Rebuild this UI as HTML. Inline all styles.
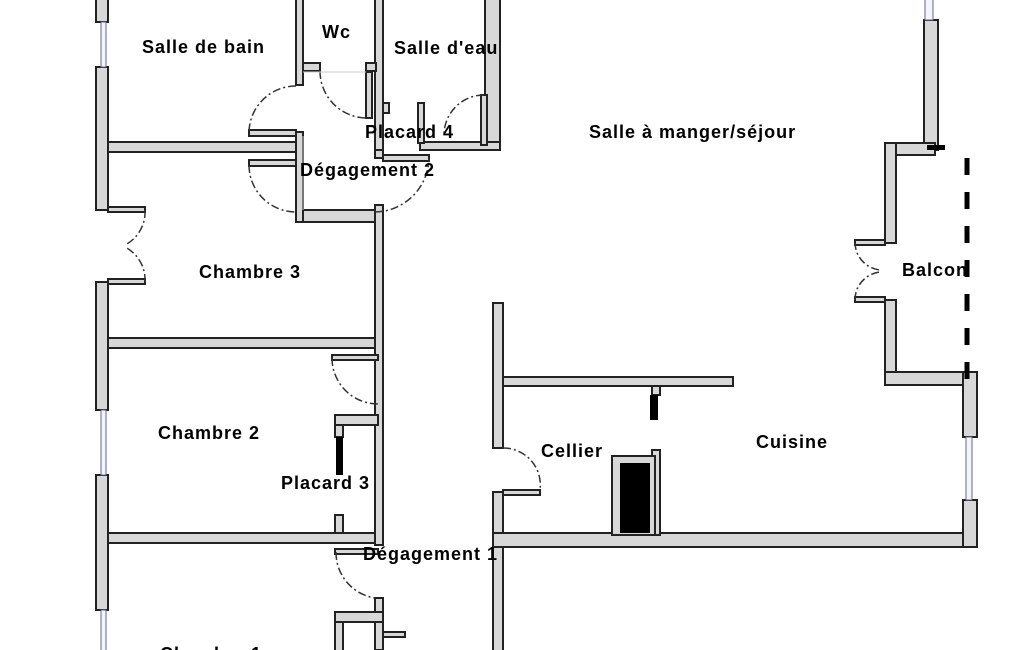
<!DOCTYPE html>
<html><head><meta charset="utf-8"><style>
html,body{margin:0;padding:0;background:#fff;width:1025px;height:650px;overflow:hidden}
svg{display:block}
text{font-family:"Liberation Sans",Arial,sans-serif;font-size:18px;font-weight:bold;letter-spacing:1px;fill:#000}
</style></head><body>
<svg width="1025" height="650" viewBox="0 0 1025 650" xmlns="http://www.w3.org/2000/svg">
<g fill="#d8d8d8" stroke="#222" stroke-width="2">
<rect x="96" y="-2" width="12" height="24"/>
<rect x="96" y="67" width="12" height="143"/>
<rect x="96" y="282" width="12" height="128"/>
<rect x="96" y="475" width="12" height="135"/>
<rect x="108" y="142" width="190" height="10"/>
<rect x="108" y="338" width="270" height="10"/>
<rect x="108" y="533" width="270" height="10"/>
<rect x="296" y="-2" width="7" height="87"/>
<rect x="303" y="63" width="17" height="8"/>
<rect x="375" y="-2" width="8" height="154"/>
<rect x="366" y="63" width="10" height="8"/>
<rect x="366" y="72" width="6" height="46"/>
<rect x="383" y="103" width="6" height="10"/>
<rect x="485" y="-2" width="15" height="152"/>
<rect x="420" y="142" width="80" height="8"/>
<rect x="418" y="103" width="6" height="40"/>
<rect x="481" y="95" width="6" height="50"/>
<rect x="296" y="132" width="7" height="90"/>
<rect x="249" y="130" width="47" height="6"/>
<rect x="249" y="160" width="47" height="6"/>
<rect x="303" y="210" width="80" height="12"/>
<rect x="375" y="150" width="8" height="8"/>
<rect x="383" y="155" width="46" height="6"/>
<rect x="375" y="205" width="8" height="340"/>
<rect x="108" y="207" width="37" height="5"/>
<rect x="108" y="279" width="37" height="5"/>
<rect x="332" y="355" width="46" height="5"/>
<rect x="335" y="415" width="43" height="10"/>
<rect x="335" y="425" width="8" height="12"/>
<rect x="335" y="515" width="8" height="18"/>
<rect x="335" y="549" width="43" height="5"/>
<rect x="375" y="598" width="8" height="52"/>
<rect x="335" y="612" width="48" height="10"/>
<rect x="335" y="622" width="8" height="30"/>
<rect x="383" y="632" width="22" height="5"/>
<rect x="493" y="303" width="10" height="145"/>
<rect x="493" y="492" width="10" height="160"/>
<rect x="503" y="377" width="230" height="9"/>
<rect x="503" y="490" width="37" height="5"/>
<rect x="493" y="533" width="484" height="14"/>
<rect x="652" y="386" width="8" height="9"/>
<rect x="652" y="450" width="8" height="85"/>
<rect x="612" y="456" width="43" height="79"/>
<rect x="924" y="20" width="14" height="130"/>
<rect x="885" y="143" width="50" height="12"/>
<rect x="885" y="143" width="11" height="100"/>
<rect x="855" y="240" width="30" height="5"/>
<rect x="855" y="297" width="30" height="5"/>
<rect x="885" y="300" width="11" height="85"/>
<rect x="885" y="372" width="92" height="13"/>
<rect x="963" y="372" width="14" height="65"/>
<rect x="963" y="500" width="14" height="47"/>
</g>
<rect x="620" y="463" width="30" height="70" fill="#000"/>
<rect x="650" y="395" width="8" height="25" fill="#000"/>
<rect x="336" y="437" width="7" height="38" fill="#000"/>
<rect x="927" y="145" width="18" height="5" fill="#000"/>
<line x1="967" y1="158" x2="967" y2="380" stroke="#000" stroke-width="5" stroke-dasharray="17,17"/>
<g fill="#f4f4ff" stroke="#668" stroke-width="1">
<rect x="101" y="22" width="5" height="45"/>
<rect x="101" y="410" width="5" height="65"/>
<rect x="101" y="610" width="5" height="42"/>
<rect x="925" y="-2" width="8" height="22"/>
<rect x="966" y="437" width="6" height="63"/>
</g>
<g fill="none" stroke="#333" stroke-width="1.5" stroke-dasharray="8,3,2,3">
<path d="M 320 71 A 47 47 0 0 0 367 118"/>
<path d="M 296 86 A 47 47 0 0 0 249 133"/>
<path d="M 249 165 A 47 47 0 0 0 296 212"/>
<path d="M 375 212 A 55 55 0 0 0 429 158"/>
<path d="M 484 95 A 40 40 0 0 0 444 135"/>
<path d="M 145 210 A 37 37 0 0 1 125 245"/>
<path d="M 145 282 A 37 37 0 0 0 125 247"/>
<path d="M 332 358 A 46 46 0 0 0 378 404"/>
<path d="M 336 552 A 46 46 0 0 0 375 598"/>
<path d="M 503 448 A 37 37 0 0 1 540 490"/>
<path d="M 855 242 A 28 28 0 0 0 880 270"/>
<path d="M 855 300 A 28 28 0 0 1 880 272"/>
</g>
<g fill="none" stroke="#ccc" stroke-width="1">
<line x1="303" y1="72" x2="366" y2="72"/>
<line x1="303" y1="210" x2="303" y2="136"/>
</g>
<text x="142" y="53">Salle de bain</text>
<text x="322" y="38">Wc</text>
<text x="394" y="54">Salle d'eau</text>
<text x="365" y="138">Placard 4</text>
<text x="300" y="176">Dégagement 2</text>
<text x="589" y="138">Salle à manger/séjour</text>
<text x="199" y="278">Chambre 3</text>
<text x="902" y="276">Balcon</text>
<text x="158" y="439">Chambre 2</text>
<text x="756" y="448">Cuisine</text>
<text x="541" y="457">Cellier</text>
<text x="281" y="489">Placard 3</text>
<text x="363" y="560">Dégagement 1</text>
<text x="160" y="660">Chambre 1</text>
</svg>
</body></html>
